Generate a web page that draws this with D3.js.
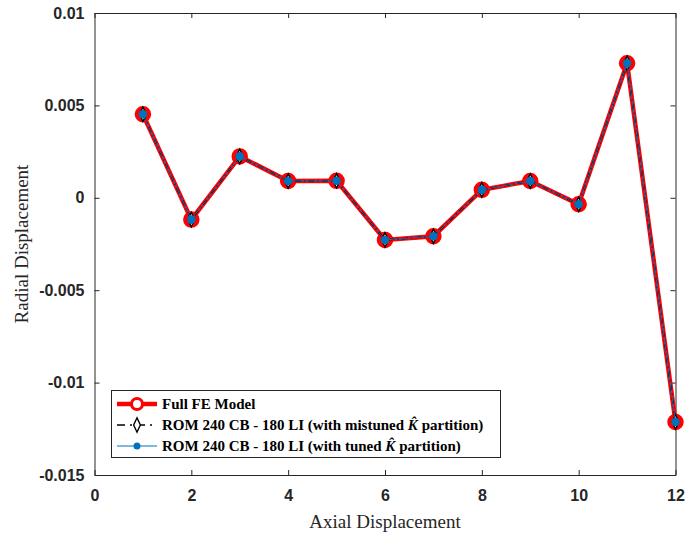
<!DOCTYPE html>
<html><head><meta charset="utf-8">
<script src="https://cdn.jsdelivr.net/npm/d3@7"></script>
<style>body{margin:0;background:#fff}svg{display:block}</style>
</head><body>
<svg id="c" width="686" height="537"></svg>
<script>
const xVals = [1,2,3,4,5,6,7,8,9,10,11,12];
const fullFE = [0.00452,-0.00118,0.00224,0.00091,0.00092,-0.00228,-0.00208,0.00043,0.00091,-0.00035,0.00728,-0.01213];
const romMistuned = [0.00452,-0.00118,0.00224,0.00091,0.00092,-0.00228,-0.00208,0.00043,0.00091,-0.00035,0.00728,-0.01213];
const romTuned = [0.00452,-0.00118,0.00224,0.00091,0.00092,-0.00228,-0.00208,0.00043,0.00091,-0.00035,0.00728,-0.01213];
const xTicks = [0,2,4,6,8,10,12];
const yTicks = [0.01,0.005,0,-0.005,-0.01,-0.015];
const yTickLabels = ["0.01","0.005","0","-0.005","-0.01","-0.015"];

const svg = d3.select("#c");
const L=94.5, R=675.5, T=13, B=475;
const x = d3.scaleLinear().domain([0,12]).range([L,R]);
const y = d3.scaleLinear().domain([-0.015,0.01]).range([B,T]);
const ax = "#262626";

// axes
const gx = svg.append("g").attr("transform",`translate(0,${B})`)
  .call(d3.axisBottom(x).tickValues(xTicks).tickSizeInner(-5).tickSizeOuter(0).tickPadding(10));
const gy = svg.append("g").attr("transform",`translate(${L},0)`)
  .call(d3.axisLeft(y).tickValues(yTicks).tickFormat((d,i)=>yTickLabels[i]).tickSizeInner(-5).tickSizeOuter(0).tickPadding(10));
svg.append("g").attr("transform",`translate(0,${T})`)
  .call(d3.axisTop(x).tickValues(xTicks).tickSizeInner(-5).tickSizeOuter(0).tickFormat(""));
svg.append("g").attr("transform",`translate(${R},0)`)
  .call(d3.axisRight(y).tickValues(yTicks).tickSizeInner(-5).tickSizeOuter(0).tickFormat(""));
svg.selectAll(".domain").attr("stroke",ax).attr("stroke-width",1);
svg.selectAll(".tick line").attr("stroke",ax);
svg.selectAll(".tick text").attr("font-family","Liberation Sans, Arial, sans-serif").attr("font-weight","bold").attr("font-size",16).attr("fill","#262626");
gx.selectAll(".tick text").attr("dy","1em");

svg.append("text").attr("x",(L+R)/2).attr("y",528).attr("text-anchor","middle")
  .attr("font-family","Liberation Serif, Times New Roman, serif").attr("font-size",19).attr("fill","#262626").text("Axial Displacement");
svg.append("text").attr("transform",`translate(28,${(T+B)/2}) rotate(-90)`).attr("text-anchor","middle")
  .attr("font-family","Liberation Serif, Times New Roman, serif").attr("font-size",19).attr("fill","#262626").text("Radial Displacement");

const line = d3.line().x((d,i)=>x(xVals[i])).y(d=>y(d));
// Full FE
svg.append("path").datum(fullFE).attr("d",line).attr("fill","none").attr("stroke","#ff0000").attr("stroke-width",4.5);
svg.selectAll(".fe").data(fullFE).enter().append("circle")
  .attr("cx",(d,i)=>x(xVals[i])).attr("cy",d=>y(d)).attr("r",7.5).attr("fill","#ff0000").attr("stroke","#ff0000").attr("stroke-width",1.5);
// mistuned
svg.append("path").datum(romMistuned).attr("d",line).attr("fill","none").attr("stroke","#000").attr("stroke-width",1.5).attr("stroke-dasharray","6,3,1.5,3");
const dia = d3.symbol().type(d3.symbolDiamond).size(55);
svg.selectAll(".mis").data(romMistuned).enter().append("path")
  .attr("d",dia).attr("transform",(d,i)=>`translate(${x(xVals[i])},${y(d)}) scale(0.85,1.05)`)
  .attr("fill","#fff").attr("stroke","#000").attr("stroke-width",1.5);
// tuned
svg.append("path").datum(romTuned).attr("d",line).attr("fill","none").attr("stroke","#0072BD").attr("stroke-width",1);
svg.selectAll(".tu").data(romTuned).enter().append("circle")
  .attr("cx",(d,i)=>x(xVals[i])).attr("cy",d=>y(d)).attr("r",4.3).attr("fill","#0072BD");

// legend
const lg = svg.append("g");
lg.append("rect").attr("x",111.5).attr("y",390.5).attr("width",389).attr("height",67).attr("fill","#fff").attr("stroke","#262626").attr("stroke-width",1);
const ly = [404,425,446];
const lx1=117, lx2=157, lm=137;
lg.append("line").attr("x1",lx1).attr("x2",lx2).attr("y1",ly[0]).attr("y2",ly[0]).attr("stroke","#f00").attr("stroke-width",4.5);
lg.append("circle").attr("cx",lm).attr("cy",ly[0]).attr("r",5.5).attr("fill","#fff").attr("stroke","#f00").attr("stroke-width",3);
lg.append("line").attr("x1",lx1).attr("x2",lx2).attr("y1",ly[1]).attr("y2",ly[1]).attr("stroke","#000").attr("stroke-width",1.5).attr("stroke-dasharray","8,5,2,5");
lg.append("path").attr("d",dia).attr("transform",`translate(${lm},${ly[1]}) scale(0.85,1.05)`).attr("fill","#fff").attr("stroke","#000").attr("stroke-width",1.5);
lg.append("line").attr("x1",lx1).attr("x2",lx2).attr("y1",ly[2]).attr("y2",ly[2]).attr("stroke","#0072BD").attr("stroke-width",1);
lg.append("circle").attr("cx",lm).attr("cy",ly[2]).attr("r",3.5).attr("fill","#0072BD");

const tf = "Liberation Serif, Times New Roman, serif";
function legText(yy, parts){
  const t = lg.append("text").attr("x",162).attr("y",yy+5).attr("font-family",tf).attr("font-size",15).attr("font-weight","bold").attr("fill","#000");
  parts.forEach(p=>{
    const s = t.append("tspan").text(p.t);
    if(p.i) s.attr("font-style","italic");
  });
}
legText(ly[0],[{t:"Full FE Model"}]);
legText(ly[1],[{t:"ROM 240 CB - 180 LI (with mistuned "},{t:"K\u0302",i:true},{t:" partition)"}]);
legText(ly[2],[{t:"ROM 240 CB - 180 LI (with tuned "},{t:"K\u0302",i:true},{t:" partition)"}]);
</script>
</body></html>
